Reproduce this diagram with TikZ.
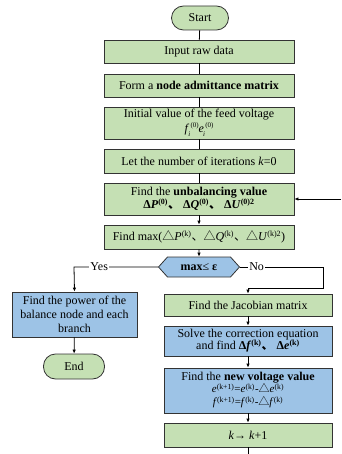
\documentclass[tikz,border=0pt]{standalone}
\usepackage{fontspec}
\setmainfont{Liberation Serif}
\newfontfamily\cjkfont{Noto Sans CJK SC}
\usetikzlibrary{arrows.meta,shapes.symbols}

\definecolor{boxgreen}{HTML}{C5E0B4}
\definecolor{boxblue}{HTML}{9DC3E6}
\newcommand{\dun}{{\cjkfont 、}}
\newcommand{\tri}{{\cjkfont △}}
\newcommand{\eqfont}{\fontsize{11}{12}\selectfont}
\newcommand{\supsub}[2]{\kern-1pt\raisebox{-3.5pt}{\scriptsize #2}\kern0.3pt\raisebox{5pt}{\scriptsize #1}}

\begin{document}
\begin{tikzpicture}[x=1pt,y=-1pt,
    font=\fontsize{12}{14}\selectfont,
    base/.style={draw=black!80, line width=0.8pt, align=center, inner sep=1pt},
    gbox/.style={base, fill=boxgreen, minimum width=190pt},
    bbox/.style={base, fill=boxblue},
    term/.style={base, fill=boxgreen, rounded corners=12pt},
    judge/.style={base, fill=boxblue, shape=signal, signal to=west and east,
      signal pointer angle=96, minimum width=81pt, minimum height=20pt},
    tag/.style={fill=white, inner sep=1pt},
    arr/.style={-{Latex[length=4pt,width=3.5pt]}},
    every path/.style={line width=0.8pt}]

  \useasboundingbox (0,0) rectangle (341,454);

  % Main column
  \node[term, minimum width=57pt, minimum height=24pt] (start) at (200,18) {Start};
  \node[gbox, minimum height=23pt] (input) at (199,51.5) {Input raw data};
  \node[gbox, minimum height=23pt] (form) at (199,85.5) {Form a \textbf{node admittance matrix}};
  \node[gbox, minimum height=32pt, inner sep=0pt] (init) at (199,123)
    {Initial value of the feed voltage\\[1pt]
     \textit{f}\supsub{(0)}{\textit{i}}\textit{e}\supsub{(0)}{\textit{i}}};
  \node[gbox, minimum height=24pt] (letk) at (199,161) {Let the number of iterations \textit{k}=0};
  \node[gbox, minimum height=32pt] (unbal) at (199,199)
    {Find the \textbf{unbalancing value}\\[-1pt]
     \textbf{Δ\textit{P}\textsuperscript{(0)}\dun\ Δ\textit{Q}\textsuperscript{(0)}\dun\ Δ\textit{U}\textsuperscript{(0)2}}};
  \node[gbox, minimum height=24pt, inner sep=0pt] (findmax) at (199,237)
    {Find max(\tri\textit{P}\textsuperscript{(k)}\dun\tri\textit{Q}\textsuperscript{(k)}\dun\tri\textit{U}\textsuperscript{(k)2})};
  \node[judge] (judge) at (199,267) {\textbf{max}≤ \textbf{ε}};

  % Yes branch
  \node[bbox, minimum width=125pt, minimum height=45pt] (power) at (74.5,314.5)
    {Find the power of the\\balance node and each\\branch};
  \node[term, minimum width=61pt, minimum height=25pt] (end) at (74,366.5) {End};

  % No branch
  \node[gbox, minimum width=168pt, minimum height=22pt] (jacob) at (248,305) {Find the Jacobian matrix};
  \node[bbox, minimum width=168pt, minimum height=30pt] (solve) at (248,341)
    {Solve the correction equation\\[-2pt]
     and find \textbf{Δ\textit{f}\textsuperscript{(k)}\dun\ Δ\textit{e}\textsuperscript{(k)}}};
  \node[bbox, minimum width=168pt, minimum height=45pt] (newv) at (248,390.5)
    {Find the \textbf{new voltage value}\\[-2pt]
     {\eqfont \textit{e}\textsuperscript{(k+1)}=\textit{e}\textsuperscript{(k)}-\tri\textit{e}\textsuperscript{(k)}}\\[-1pt]
     {\eqfont \textit{f}\textsuperscript{(k+1)}=\textit{f}\textsuperscript{(k)}-\tri\textit{f}\textsuperscript{(k)}}};
  \node[gbox, minimum width=168pt, minimum height=24pt] (kinc) at (248,435) {\textit{k}→ \textit{k}+1};

  \coordinate (yescorner) at (74,267);
  \coordinate (nocorner) at (323,267);
  \coordinate (noback) at (323,288);
  \coordinate (nodrop) at (248,288);
  \coordinate (fb) at (341,199);
  \coordinate (bot) at (248,454);

  % Connectors
  \draw (start) -- (input);
  \draw (input) -- (form);
  \draw (form) -- (init);
  \draw (init) -- (letk);
  \draw (letk) -- (unbal);
  \draw[arr] (unbal) -- (findmax);
  \draw[arr] (findmax) -- (judge);
  \draw[arr] (judge.west) -- node[tag, pos=0.7] {Yes} (yescorner) -- (power.north);
  \draw[arr] (power) -- (end);
  \draw[arr] (judge.east) -- node[tag, pos=0.2] {No} (nocorner) -- (noback) -- (nodrop) -- (jacob.north);
  \draw[arr] (jacob) -- (solve);
  \draw[arr] (solve) -- (newv);
  \draw[arr] (newv) -- (kinc);
  \draw (kinc) -- (bot);
  \draw[arr] (fb) -- (unbal.east);
\end{tikzpicture}
\end{document}
